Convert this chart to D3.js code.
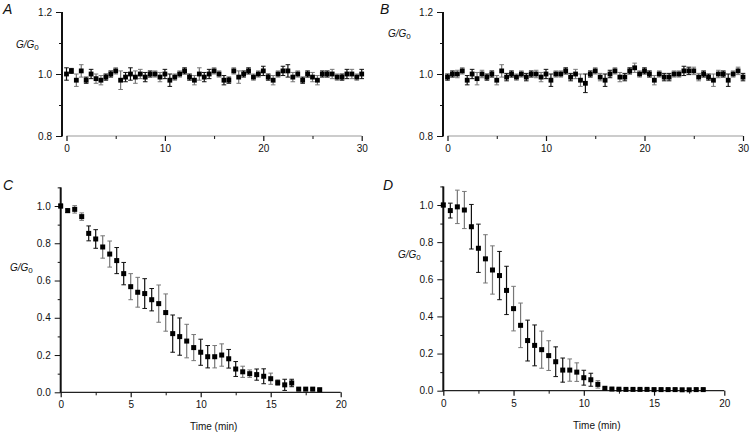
<!DOCTYPE html>
<html><head><meta charset="utf-8">
<script src="https://cdn.jsdelivr.net/npm/d3@7"></script>
<style>
body{margin:0;background:#fff}
svg{display:block}
text{font-family:"Liberation Sans",Arial,Helvetica,sans-serif;fill:#111}
</style>
</head><body>
<svg id="chart" width="750" height="432"></svg>
<script>
// ---------- DATA ----------
const timeAB = [0,0.5,1,1.5,2,2.5,3,3.5,4,4.5,5,5.5,6,6.5,7,7.5,8,8.5,9,9.5,10,10.5,11,11.5,12,12.5,13,13.5,14,14.5,15,15.5,16,16.5,17,17.5,18,18.5,19,19.5,20,20.5,21,21.5,22,22.5,23,23.5,24,24.5,25,25.5,26,26.5,27,27.5,28,28.5,29,29.5,30];
const valueA = [1.00,1.01,0.98,1.01,0.98,1.00,0.985,0.98,0.99,1.00,1.01,
  0.98,0.99,1.00,0.99,1.00,0.99,1.00,1.00,0.99,1.00,
  0.98,0.99,1.00,1.01,0.99,0.98,1.00,0.99,1.00,1.01,
  1.00,0.98,0.98,1.01,0.99,1.00,1.01,0.99,1.00,1.01,
  0.99,0.98,1.00,1.01,1.01,0.99,1.00,0.98,1.00,0.99,
  0.98,1.00,1.00,1.00,0.99,0.99,1.00,1.00,0.99,1.00];
const errorA = [0.02,0.008,0.02,0.02,0.01,0.015,0.015,0.015,0.01,0.01,0.01,
  0.03,0.015,0.02,0.02,0.015,0.015,0.01,0.01,0.015,0.015,
  0.02,0.01,0.01,0.01,0.01,0.015,0.02,0.015,0.015,0.01,
  0.01,0.015,0.01,0.01,0.02,0.01,0.01,0.01,0.01,0.015,
  0.01,0.015,0.01,0.015,0.02,0.015,0.01,0.01,0.01,0.015,
  0.015,0.01,0.01,0.015,0.01,0.01,0.015,0.015,0.01,0.015];
const valueB = [0.99,1.00,1.00,1.01,0.98,1.00,0.985,1.00,0.99,1.00,0.98,
  1.01,0.99,1.00,0.99,1.00,0.99,1.00,1.00,0.99,1.00,
  0.98,1.00,1.00,1.01,0.99,1.00,0.98,0.97,1.00,1.01,
  0.99,0.98,1.00,1.01,0.99,0.99,1.01,1.02,1.00,1.01,
  1.00,0.98,1.00,0.99,0.99,1.00,1.00,1.01,1.01,1.01,
  0.99,1.00,0.99,0.98,1.00,1.00,0.98,1.00,1.01,0.99];
const errorB = [0.01,0.01,0.012,0.01,0.015,0.015,0.02,0.012,0.01,0.01,0.015,
  0.02,0.012,0.01,0.01,0.01,0.012,0.01,0.012,0.015,0.015,
  0.02,0.01,0.01,0.01,0.012,0.015,0.02,0.03,0.01,0.01,
  0.012,0.02,0.012,0.01,0.015,0.012,0.01,0.015,0.01,0.01,
  0.01,0.015,0.01,0.012,0.012,0.01,0.01,0.015,0.012,0.012,
  0.012,0.01,0.01,0.02,0.012,0.01,0.02,0.01,0.012,0.012];

const timeCD = [0,0.5,1,1.5,2,2.5,3,3.5,4,4.5,5,5.5,6,6.5,7,7.5,8,8.5,9,9.5,10,10.5,11,11.5,12,12.5,13,13.5,14,14.5,15,15.5,16,16.5,17,17.5,18,18.5];
const valueC = [1.00,0.975,0.982,0.943,0.853,0.823,0.78,0.742,0.707,0.637,0.567,0.537,0.53,0.497,0.476,0.428,0.315,0.299,0.275,0.24,0.215,0.191,0.191,0.2,0.18,0.125,0.11,0.1,0.095,0.086,0.073,0.052,0.04,0.05,0.017,0.017,0.017,0.014];
const errorC = [0.01,0.01,0.02,0.02,0.04,0.05,0.06,0.07,0.07,0.06,0.07,0.08,0.08,0.06,0.1,0.1,0.1,0.1,0.09,0.07,0.07,0.06,0.06,0.06,0.05,0.04,0.03,0.02,0.03,0.04,0.03,0.015,0.03,0.02,0.005,0.005,0.005,0.004];
const valueD = [1.00,0.97,0.99,0.973,0.883,0.767,0.71,0.65,0.62,0.54,0.442,0.352,0.27,0.244,0.221,0.189,0.156,0.111,0.111,0.1,0.07,0.059,0.034,0.013,0.009,0.008,0.007,0.007,0.007,0.007,0.006,0.006,0.006,0.006,0.005,0.005,0.006,0.006];
const errorD = [0.01,0.04,0.09,0.1,0.12,0.13,0.13,0.13,0.13,0.13,0.12,0.12,0.11,0.11,0.1,0.08,0.08,0.065,0.06,0.05,0.04,0.035,0.02,0.006,0.005,0.004,0.004,0.004,0.004,0.004,0.004,0.004,0.004,0.004,0.004,0.004,0.004,0.004];

const yTicksAB = [0.8,1.0,1.2];
const yMinorAB = [0.9,1.1];
const xTicksAB = [0,10,20,30];
const xMinorAB = [5,15,25];
const yTicksCD = [0.0,0.2,0.4,0.6,0.8,1.0];
const yMinorCD = [0.1,0.3,0.5,0.7,0.9,1.1];
const xTicksCD = [0,5,10,15,20];
const xMinorCD = [2.5,7.5,12.5,17.5];

// ---------- LAYOUT ----------
const svg = d3.select("#chart");

const panels = [
  {letter:"A", t:timeAB, v:valueA, e:errorA, xDom:[0,30], yDom:[0.8,1.2], yTop:1.2,
   yAxisX:62, xr:[66.5,361.7], yr:[136,12], yt:yTicksAB, ym:yMinorAB, xt:xTicksAB, xm:xMinorAB,
   letterPos:[3,14], labPos:[16,48], size:4.8, cap:2.3, time:false, xCol:"#999"},
  {letter:"B", t:timeAB, v:valueB, e:errorB, xDom:[0,30], yDom:[0.8,1.2], yTop:1.2,
   yAxisX:443, xr:[447.5,743], yr:[136,12], yt:yTicksAB, ym:yMinorAB, xt:xTicksAB, xm:xMinorAB,
   letterPos:[380,14], labPos:[388,37], size:4.8, cap:2.3, time:false, xCol:"#999"},
  {letter:"C", t:timeCD, v:valueC, e:errorC, xDom:[0,20], yDom:[0,1], yTop:1.1,
   yAxisX:60.7, xr:[60.7,340.7], yr:[392.3,206], yt:yTicksCD, ym:yMinorCD, xt:xTicksCD, xm:xMinorCD,
   letterPos:[3,190], labPos:[10,271], size:5, cap:2.3, time:true, xCol:"#222"},
  {letter:"D", t:timeCD, v:valueD, e:errorD, xDom:[0,20], yDom:[0,1], yTop:1.1,
   yAxisX:443.3, xr:[443.3,724.3], yr:[390.7,205], yt:yTicksCD, ym:yMinorCD, xt:xTicksCD, xm:xMinorCD,
   letterPos:[383,190], labPos:[398,258], size:5, cap:2.3, time:true, xCol:"#222"}
];

const fmt1 = d3.format(".1f");

panels.forEach(p => {
  const x = d3.scaleLinear().domain(p.xDom).range(p.xr);
  const y = d3.scaleLinear().domain(p.yDom).range(p.yr);
  const g = svg.append("g");
  const yBase = p.yr[0];

  const ya = g.append("g").attr("transform",`translate(${p.yAxisX},0)`)
    .call(d3.axisLeft(y).tickValues(p.yt).tickFormat(fmt1).tickSize(6).tickPadding(4));
  ya.select(".domain").remove();
  ya.selectAll(".tick line").attr("stroke","#111").attr("stroke-width",1);
  ya.selectAll(".tick text").style("font-size","10px").attr("fill","#111");
  const ym = g.append("g").attr("transform",`translate(${p.yAxisX},0)`)
    .call(d3.axisLeft(y).tickValues(p.ym).tickFormat("").tickSize(3));
  ym.select(".domain").remove();
  ym.selectAll(".tick line").attr("stroke","#111");
  g.append("line").attr("x1",p.yAxisX).attr("x2",p.yAxisX)
    .attr("y1",y(p.yDom[0])+0.5).attr("y2",y(p.yTop))
    .attr("stroke","#111").attr("stroke-width",2);

  const xa = g.append("g").attr("transform",`translate(0,${yBase})`)
    .call(d3.axisBottom(x).tickValues(p.xt).tickFormat(d3.format("d")).tickSize(5).tickPadding(4));
  xa.select(".domain").attr("stroke",p.xCol).attr("stroke-width",1.2)
    .attr("d",`M${x(p.xDom[0])},0H${x(p.xDom[1])}`);
  xa.selectAll(".tick line").attr("stroke","#111").attr("stroke-width",1.2);
  xa.selectAll(".tick text").style("font-size","10px").attr("fill","#111");
  const xm = g.append("g").attr("transform",`translate(0,${yBase})`)
    .call(d3.axisBottom(x).tickValues(p.xm).tickFormat("").tickSize(3));
  xm.select(".domain").remove();
  xm.selectAll(".tick line").attr("stroke","#111");

  const eb = g.append("g");
  p.t.forEach((t,i) => {
    const cx = x(t), lo = y(Math.max(p.yDom[0], p.v[i]-p.e[i])), hi = y(p.v[i]+p.e[i]);
    const col = (i % 4 === 2 || i % 4 === 3) ? "#777" : "#111";
    eb.append("line").attr("x1",cx).attr("x2",cx).attr("y1",lo).attr("y2",hi)
      .attr("stroke",col).attr("stroke-width",1.2);
    eb.append("line").attr("x1",cx-p.cap).attr("x2",cx+p.cap).attr("y1",hi).attr("y2",hi)
      .attr("stroke",col).attr("stroke-width",1);
    if (p.v[i]-p.e[i] > p.yDom[0])
      eb.append("line").attr("x1",cx-p.cap).attr("x2",cx+p.cap).attr("y1",lo).attr("y2",lo)
        .attr("stroke",col).attr("stroke-width",1);
  });
  g.append("g").selectAll("rect").data(p.t).join("rect")
    .attr("x",d=>x(d)-p.size/2)
    .attr("y",(d,i)=>y(p.v[i])-p.size/2)
    .attr("width",p.size).attr("height",p.size).attr("fill","#000");

  g.append("text").attr("x",p.letterPos[0]).attr("y",p.letterPos[1])
    .style("font-size","14px").style("font-style","italic").text(p.letter);
  const lab = g.append("text").attr("x",p.labPos[0]).attr("y",p.labPos[1])
    .style("font-size","10px").style("font-style","italic");
  lab.append("tspan").text("G/G");
  lab.append("tspan").attr("dy",2).style("font-size","8px").style("font-style","normal").text("0");

  if (p.time) {
    g.append("text").attr("x",(p.xr[0]+p.xr[1])/2+13).attr("y",yBase+38)
      .attr("text-anchor","middle").style("font-size","10px").text("Time (min)");
  }
});
</script>
</body></html>
